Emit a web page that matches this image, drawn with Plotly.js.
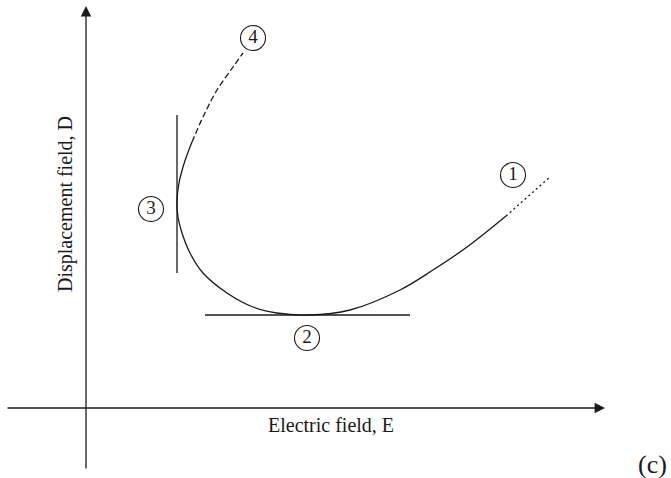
<!DOCTYPE html>
<html>
<head>
<meta charset="utf-8">
<script src="https://cdn.plot.ly/plotly-3.0.1.min.js"></script>
<style>
  html, body { margin: 0; padding: 0; background: #fff; }
  #plot { width: 671px; height: 478px; }
</style>
</head>
<body>
<div id="plot"></div>
<script>
// schematic D-E curve, arbitrary units (origin = axis crossing)
const curveE = [106, 101, 97, 93, 91, 92, 96, 104, 117, 141, 167, 191, 222, 264, 314, 347, 381, 420];
const curveD = [266, 253, 241, 225, 208, 191, 175, 155, 135, 115, 101, 95, 93, 98, 118, 138, 161, 192];

const dashE = [106, 117, 131, 147, 157];
const dashD = [266, 291, 318, 341, 355];

const dotE = [420, 464];
const dotD = [192, 231];

const vTangentE = [91, 91];
const vTangentD = [135, 293];
const hTangentE = [119, 324];
const hTangentD = [93, 93];

const markE = [427, 221, 65, 167];
const markD = [233, 70, 199, 370];
const markLabels = ['1', '2', '3', '4'];

const xAxisSpan = [-80, 519];
const yAxisSpan = [-62, 402];

const serif = 'Liberation Serif, Times New Roman, serif';
const ink = '#1a1a1a';

function line(x, y, dash, width) {
  return {
    x: x, y: y, mode: 'lines', type: 'scatter', hoverinfo: 'skip',
    line: { color: ink, width: width || 1.3, dash: dash || 'solid', shape: 'linear' }
  };
}

const mainCurve = line(curveE, curveD);
mainCurve.line.shape = 'spline';
const dashCurve = line(dashE, dashD, '6px,3px');
dashCurve.line.shape = 'spline';
const dotCurve = line(dotE, dotD, '2px,3px');

const markers = {
  x: markE, y: markD, mode: 'markers+text', type: 'scatter', hoverinfo: 'skip',
  text: markLabels, textposition: 'middle center',
  textfont: { family: serif, size: 19, color: ink },
  marker: { symbol: 'circle-open', size: 25, color: ink, line: { width: 1.1, color: ink } }
};

const traces = [
  mainCurve, dashCurve, dotCurve,
  line(vTangentE, vTangentD), line(hTangentE, hTangentD),
  markers
];

const axisArrow = (tipX, tipY, tailX, tailY) => ({
  x: tipX, y: tipY, ax: tailX, ay: tailY, xref: 'x', yref: 'y', axref: 'x', ayref: 'y',
  showarrow: true, arrowhead: 2, arrowsize: 1.6, arrowwidth: 1.3, arrowcolor: ink, text: ''
});

const layout = {
  width: 671, height: 478,
  margin: { l: 0, r: 0, t: 0, b: 0 },
  paper_bgcolor: '#fff', plot_bgcolor: '#fff',
  showlegend: false,
  xaxis: { range: [-86, 585], visible: false, fixedrange: true },
  yaxis: { range: [-70, 408], visible: false, fixedrange: true },
  annotations: [
    axisArrow(xAxisSpan[1], 0, xAxisSpan[0], 0),
    axisArrow(0, yAxisSpan[1], 0, yAxisSpan[0]),
    { x: 245, y: -17, xref: 'x', yref: 'y', showarrow: false, text: 'Electric field, E',
      font: { family: serif, size: 20, color: ink } },
    { x: -21, y: 204, xref: 'x', yref: 'y', showarrow: false, text: 'Displacement field, D',
      textangle: -90, font: { family: serif, size: 20, color: ink } },
    { x: 566, y: -56, xref: 'x', yref: 'y', showarrow: false, text: '(c)',
      font: { family: serif, size: 26, color: ink } }
  ]
};

Plotly.newPlot('plot', traces, layout, { staticPlot: true, displayModeBar: false });
</script>
</body>
</html>
